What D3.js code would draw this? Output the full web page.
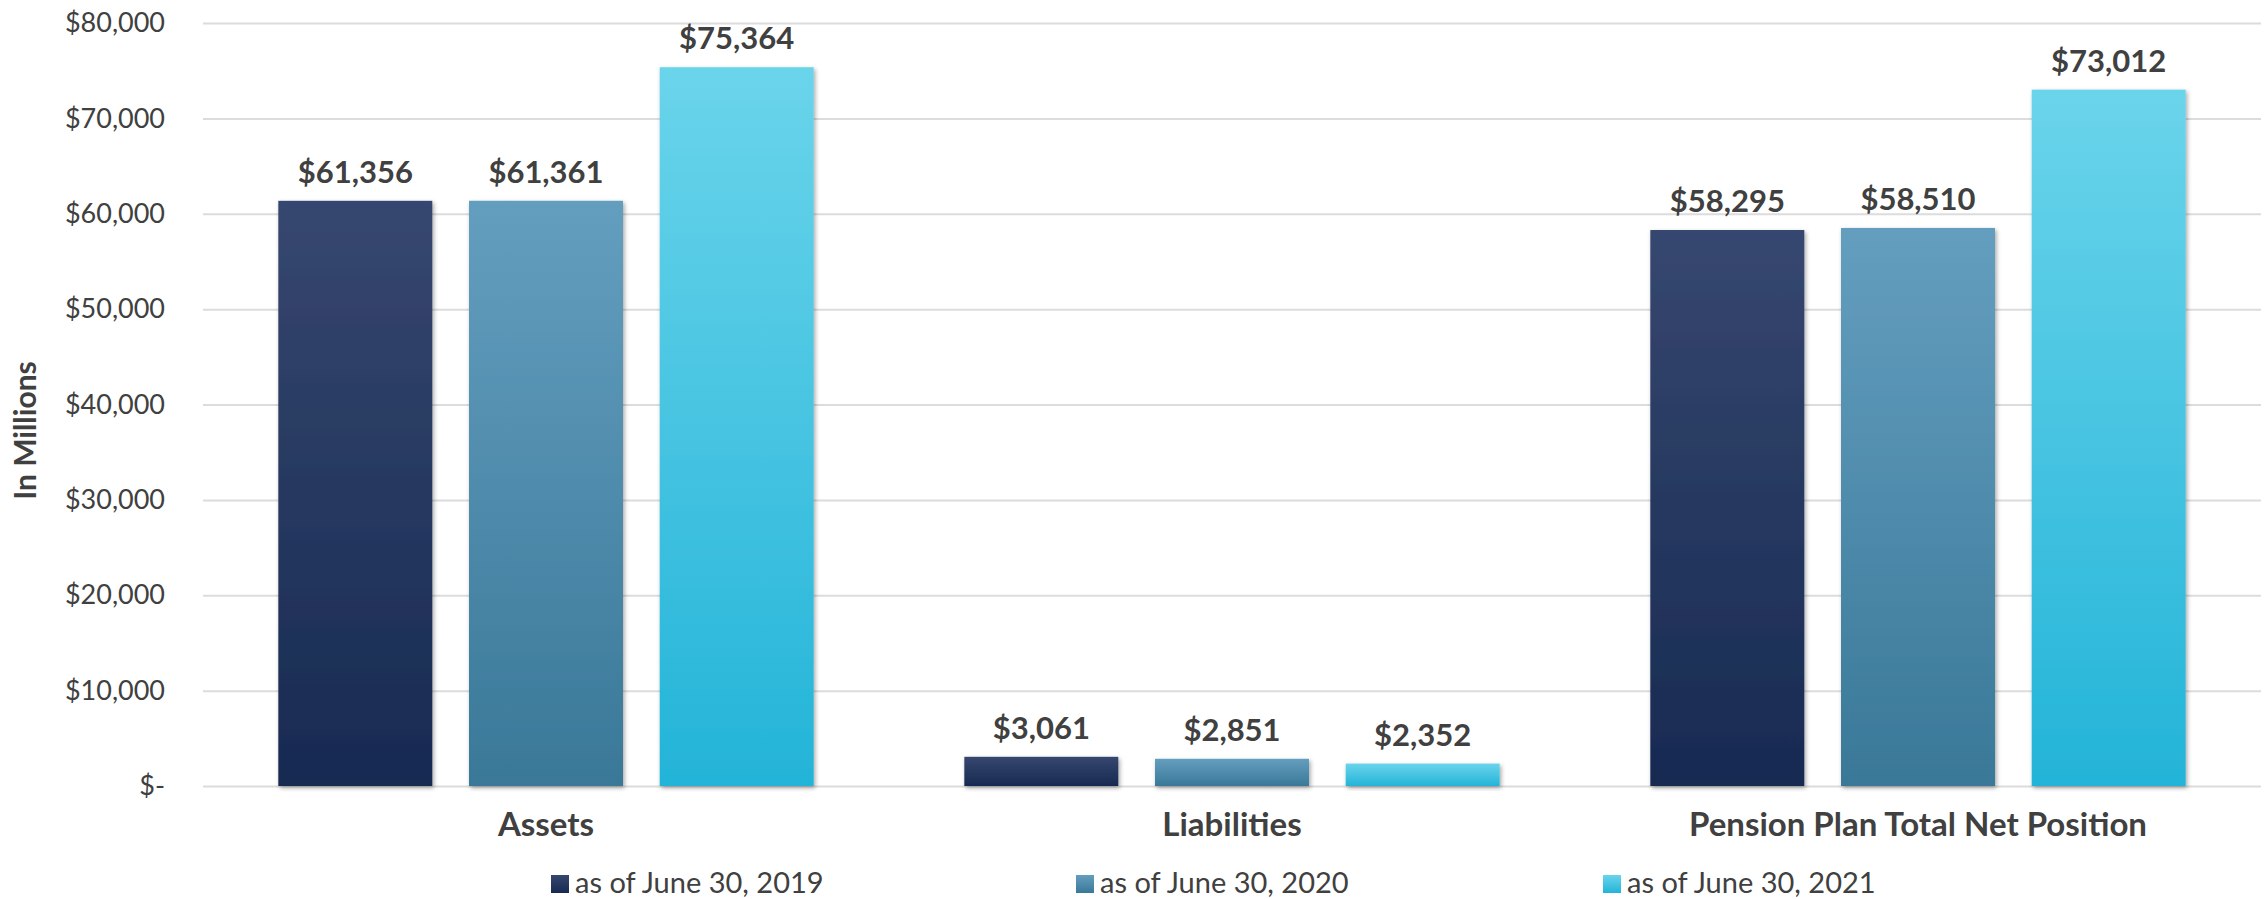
<!DOCTYPE html>
<html>
<head>
<meta charset="utf-8">
<script src="https://cdn.jsdelivr.net/npm/d3@7"></script>
<style>
  html, body { margin: 0; padding: 0; background: #ffffff; }
  svg { display: block; }
</style>
</head>
<body>
<svg id="chart" width="2265" height="899"></svg>
<script>
// ---- Data ----
const categories = ["Assets", "Liabilities", "Pension Plan Total Net Position"];
const seriesNames = ["as of June 30, 2019", "as of June 30, 2020", "as of June 30, 2021"];
const values2019 = [61356, 3061, 58295];
const values2020 = [61361, 2851, 58510];
const values2021 = [75364, 2352, 73012];
const yTickValues = [0, 10000, 20000, 30000, 40000, 50000, 60000, 70000, 80000];
const yAxisTitle = "In Millions";

// ---- Styling ----
const gradients = [
  { top: "#36476f", bottom: "#172a51" },
  { top: "#649ebf", bottom: "#3a7898" },
  { top: "#6ad4eb", bottom: "#23b4d8" }
];
const textColor = "#404040";
const fontFamily = "Lato, 'Open Sans', sans-serif";

const svg = d3.select("#chart");
const plot = { left: 203, right: 2261, top: 23, bottom: 786 };

const seriesValues = [values2019, values2020, values2021];
const rows = categories.map((c, i) => ({
  category: c,
  vals: seriesValues.map((s, j) => ({ series: j, value: s[i] }))
}));

// ---- Scales ----
const x0 = d3.scaleBand().domain(categories).range([plot.left, plot.right]).padding(0);
const x1 = d3.scaleBand().domain(d3.range(seriesNames.length))
  .range([0, x0.bandwidth()]).paddingInner(0.1925).paddingOuter(0.395);
const y = d3.scaleLinear().domain([0, 80000]).range([plot.bottom, plot.top]);

// ---- Defs ----
const defs = svg.append("defs");
gradients.forEach((g, i) => {
  const lg = defs.append("linearGradient").attr("id", "grad" + i)
    .attr("x1", 0).attr("y1", 0).attr("x2", 0).attr("y2", 1);
  lg.append("stop").attr("offset", "0%").attr("stop-color", g.top);
  lg.append("stop").attr("offset", "100%").attr("stop-color", g.bottom);
});
const f = defs.append("filter").attr("id", "shadow")
  .attr("x", "-10%").attr("y", "-10%").attr("width", "130%").attr("height", "130%");
f.append("feDropShadow").attr("dx", 1.5).attr("dy", 2).attr("stdDeviation", 2)
  .attr("flood-color", "#000").attr("flood-opacity", 0.35);

// ---- Y axis with gridlines ----
const fmt = d3.format(",");
const yAxis = d3.axisLeft(y)
  .tickValues(yTickValues)
  .tickSize(-(plot.right - plot.left))
  .tickPadding(38)
  .tickFormat(d => d === 0 ? "$-" : "$" + fmt(d));
const gy = svg.append("g").attr("transform", `translate(${plot.left},0)`).call(yAxis);
gy.select(".domain").remove();
gy.selectAll(".tick line").attr("stroke", "#dcdcdc").attr("stroke-width", 2);
gy.selectAll(".tick text")
  .attr("fill", textColor)
  .style("font-family", fontFamily)
  .style("font-size", "27px");

// ---- Bars ----
const groups = svg.append("g").selectAll("g.cat").data(rows).join("g")
  .attr("class", "cat")
  .attr("transform", d => `translate(${x0(d.category)},0)`);

groups.selectAll("rect").data(d => d.vals).join("rect")
  .attr("x", d => x1(d.series))
  .attr("width", x1.bandwidth())
  .attr("y", d => y(d.value))
  .attr("height", d => y(0) - y(d.value))
  .attr("fill", d => `url(#grad${d.series})`)
  .attr("filter", "url(#shadow)");

groups.selectAll("text.val").data(d => d.vals).join("text")
  .attr("class", "val")
  .attr("x", d => x1(d.series) + x1.bandwidth() / 2)
  .attr("y", d => y(d.value) - 18)
  .attr("text-anchor", "middle")
  .attr("fill", textColor)
  .style("font-family", fontFamily)
  .style("font-weight", "bold")
  .style("font-size", "31px")
  .text(d => "$" + fmt(d.value));

// ---- Category labels ----
svg.append("g").selectAll("text").data(categories).join("text")
  .attr("x", d => x0(d) + x0.bandwidth() / 2)
  .attr("y", 836)
  .attr("text-anchor", "middle")
  .attr("fill", textColor)
  .style("font-family", fontFamily)
  .style("font-weight", "bold")
  .style("font-size", "33px")
  .text(d => d);

// ---- Y axis title ----
svg.append("text")
  .attr("transform", `translate(36,${(plot.top + plot.bottom) / 2 + 26}) rotate(-90)`)
  .attr("text-anchor", "middle")
  .attr("fill", textColor)
  .style("font-family", fontFamily)
  .style("font-weight", "bold")
  .style("font-size", "30px")
  .text(yAxisTitle);

// ---- Legend ----
const legendX = [551, 1076, 1603];
const legend = svg.append("g").selectAll("g").data(seriesNames).join("g")
  .attr("transform", (d, i) => `translate(${legendX[i]},875)`);
legend.append("rect").attr("width", 18).attr("height", 18)
  .attr("fill", (d, i) => `url(#grad${i})`);
legend.append("text")
  .attr("x", 24).attr("y", 18)
  .attr("fill", textColor)
  .style("font-family", fontFamily)
  .style("font-size", "29px")
  .text(d => d);
</script>
</body>
</html>
